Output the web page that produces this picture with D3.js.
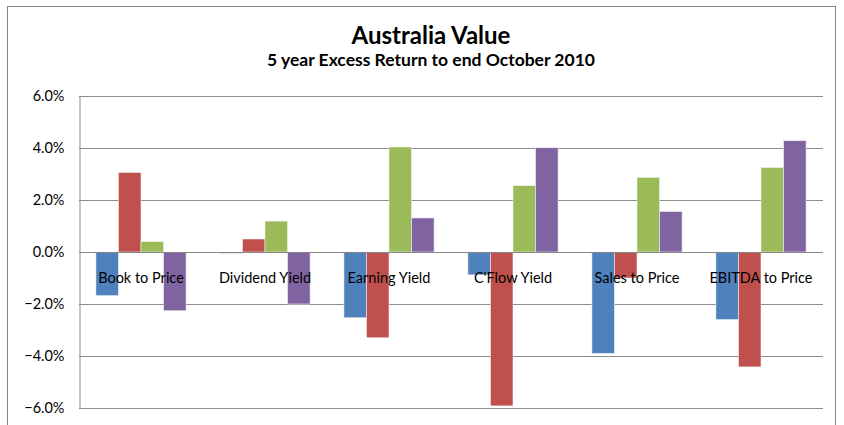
<!DOCTYPE html>
<html>
<head>
<meta charset="utf-8">
<script src="https://cdn.jsdelivr.net/npm/d3@7"></script>
<style>
  body { margin: 0; background: #fff; }
  svg { display: block; }
  text { font-family: Lato, "Open Sans", sans-serif; fill: #000; }
</style>
</head>
<body>
<script>
// data
const categories = ["Book to Price", "Dividend Yield", "Earning Yield", "C'Flow Yield", "Sales to Price", "EBITDA to Price"];
const seriesNames = ["S1", "S2", "S3", "S4"];
const s1 = [-1.68, -0.05, -2.53, -0.88, -3.90, -2.60];
const s2 = [3.06, 0.50, -3.30, -5.92, -1.00, -4.42];
const s3 = [0.40, 1.19, 4.04, 2.55, 2.87, 3.25];
const s4 = [-2.26, -2.00, 1.31, 4.01, 1.56, 4.28];
const yTicks = [-6, -4, -2, 0, 2, 4, 6];
const colors = ["#4F81BD", "#C0504D", "#9BBB59", "#8064A2"];

const W = 844, H = 425;
const margin = { top: 96, right: 21, bottom: 17, left: 79 };

const svg = d3.select("body").append("svg")
  .attr("width", W)
  .attr("height", H);

// outer chart border (bottom is cut off in the picture)
svg.append("rect")
  .attr("x", 7.5).attr("y", 6.5)
  .attr("width", 828).attr("height", 440)
  .attr("fill", "none")
  .attr("stroke", "#868686")
  .attr("stroke-width", 1);

svg.append("text")
  .attr("x", 431).attr("y", 44)
  .attr("text-anchor", "middle")
  .style("font-size", "24px")
  .style("font-weight", "bold")
  .text("Australia Value");

svg.append("text")
  .attr("x", 431).attr("y", 66)
  .attr("text-anchor", "middle")
  .style("font-size", "17.5px")
  .style("font-weight", "bold")
  .text("5 year Excess Return to end October 2010");

const y = d3.scaleLinear()
  .domain([-6, 6])
  .range([H - margin.bottom, margin.top]);

const x0 = d3.scaleBand()
  .domain(categories)
  .range([margin.left, W - margin.right])
  .padding(0);

const gapHalf = x0.bandwidth() * 0.75 / 5.5;
const x1 = d3.scaleBand()
  .domain(seriesNames)
  .range([gapHalf, x0.bandwidth() - gapHalf])
  .padding(0);

// gridlines
svg.append("g")
  .selectAll("line")
  .data(yTicks)
  .join("line")
  .attr("x1", margin.left)
  .attr("x2", W - margin.right)
  .attr("y1", d => Math.round(y(d)) + 0.5)
  .attr("y2", d => Math.round(y(d)) + 0.5)
  .attr("stroke", "#8c8c8c")
  .attr("stroke-width", 1);

// y axis
const yAxis = svg.append("g")
  .attr("transform", `translate(${margin.left + 0.5},0)`)
  .call(d3.axisLeft(y).tickValues(yTicks).tickSize(0).tickPadding(15)
    .tickFormat(d => d3.format(".1f")(d) + "%"));
yAxis.select(".domain").attr("stroke", "#8c8c8c");
yAxis.selectAll("text")
  .style("font-family", "Lato, sans-serif")
  .style("font-size", "14.5px")
  .attr("fill", "#000");

// bars
const rows = categories.map((c, i) => ({
  cat: c,
  vals: [s1[i], s2[i], s3[i], s4[i]]
}));

const groups = svg.append("g")
  .selectAll("g")
  .data(rows)
  .join("g")
  .attr("transform", d => `translate(${x0(d.cat)},0)`);

groups.selectAll("rect")
  .data(d => d.vals.map((v, j) => ({ key: seriesNames[j], v, j })))
  .join("rect")
  .attr("x", d => x1(d.key))
  .attr("width", x1.bandwidth())
  .attr("y", d => y(Math.max(0, d.v)))
  .attr("height", d => Math.abs(y(d.v) - y(0)))
  .attr("fill", d => colors[d.j])
  .attr("stroke", "#f2f2f2")
  .attr("stroke-width", 0.6);

// zero line on top of bars
svg.append("line")
  .attr("x1", margin.left)
  .attr("x2", W - margin.right)
  .attr("y1", Math.round(y(0)) + 0.5)
  .attr("y2", Math.round(y(0)) + 0.5)
  .attr("stroke", "#868686")
  .attr("stroke-width", 1);

// category labels, drawn just below the zero line
svg.append("g")
  .selectAll("text")
  .data(categories)
  .join("text")
  .attr("x", d => x0(d) + x0.bandwidth() / 2)
  .attr("y", y(0) + 31)
  .attr("text-anchor", "middle")
  .style("font-size", "14.5px")
  .text(d => d);
</script>
</body>
</html>
